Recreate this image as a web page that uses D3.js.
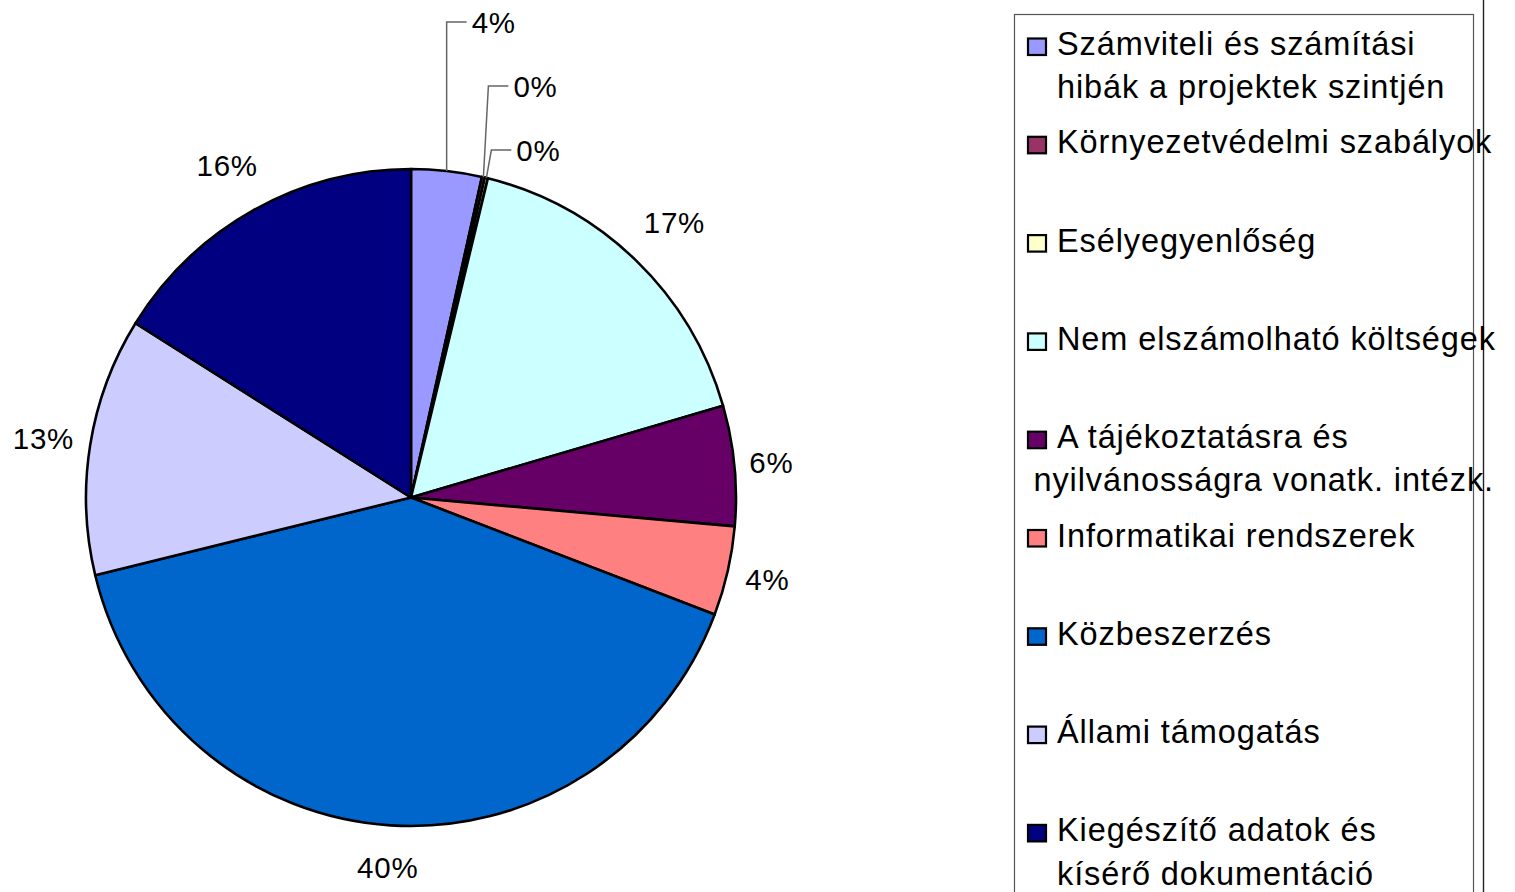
<!DOCTYPE html>
<meta charset="utf-8">
<style>
body { margin: 0; background: #fff; }
text { font-family: "Liberation Sans", Arial, sans-serif; fill: #000; }
</style>
<body>
<svg id="chart" width="1515" height="892"></svg>
</body>

<script src="https://cdn.jsdelivr.net/npm/d3@7"></script>
<script>
// categories (legend order = slice order, clockwise from 12 o'clock)
var categories = [
  "Számviteli és számítási\nhibák a projektek szintjén",
  "Környezetvédelmi szabályok",
  "Esélyegyenlőség",
  "Nem elszámolható költségek",
  "A tájékoztatásra és\nnyilvánosságra vonatk. intézk.",
  "Informatikai rendszerek",
  "Közbeszerzés",
  "Állami támogatás",
  "Kiegészítő adatok és\nkísérő dokumentáció"
];
var values = [3.5, 0.15, 0.15, 16.7, 5.9, 4.4, 40.4, 12.7, 16.1];
var colors = ["#9999FF", "#993366", "#FFFFCC", "#CCFFFF", "#660066",
              "#FF8080", "#0066CC", "#CCCCFF", "#000080"];

var svg = d3.select("#chart");

// pie geometry
var cx = 411, cy = 497.5, rx = 325, ry = 328.5;
var total = d3.sum(values);

var pie = d3.pie().sort(null).value(function(d) { return d; });
var arcs = pie(values);

var arc = d3.arc().innerRadius(0).outerRadius(ry);

var pieG = svg.append("g")
    .attr("transform", "translate(" + cx + "," + cy + ") scale(" + (rx / ry) + ",1)");

pieG.selectAll("path")
    .data(arcs)
  .enter().append("path")
    .attr("d", arc)
    .attr("fill", function(d, i) { return colors[i]; })
    .attr("stroke", "#000")
    .attr("stroke-width", 2.6)
    .attr("stroke-linejoin", "round");

// percentage labels
var labelSize = 29.5;
var labelG = svg.append("g")
    .style("font-size", labelSize + "px")
    .style("letter-spacing", "0.8px");

function pct(v) { return Math.round(v / total * 100) + "%"; }

var smallIdx = 0;
arcs.forEach(function(d, i) {
  var th = (d.startAngle + d.endAngle) / 2;
  var share = d.value / total;
  if (share >= 0.04) {
    // outside label, pushed out by its own box size
    var t = labelG.append("text")
        .attr("text-anchor", "middle")
        .attr("dy", "0.36em")
        .text(pct(d.value));
    var w = t.node().getComputedTextLength();
    var dist = 337 + (w / 2) * Math.abs(Math.sin(th)) + (labelSize + 2) * Math.abs(Math.cos(th));
    t.attr("x", cx + dist * Math.sin(th))
     .attr("y", cy - dist * Math.cos(th));
  } else {
    // small slices: stacked above the pie with leader lines
    var mx = cx + rx * Math.sin(th), my = cy - ry * Math.cos(th);
    var ly = 22 + smallIdx * 64;
    var ex = mx + (smallIdx > 0 ? 5 : 0);
    labelG.append("polyline")
        .attr("points", [[mx, my], [ex, ly], [ex + 20, ly]].map(function(p) { return p.join(","); }).join(" "))
        .attr("fill", "none")
        .attr("stroke", "#666")
        .attr("stroke-width", 1.5);
    labelG.append("text")
        .attr("x", ex + 25)
        .attr("y", ly)
        .attr("dy", "0.36em")
        .text(pct(d.value));
    smallIdx++;
  }
});

// legend frame and the vertical rule right of it
svg.append("rect")
    .attr("x", 1014.5).attr("y", 14.5)
    .attr("width", 459).attr("height", 900)
    .attr("fill", "none")
    .attr("stroke", "#555")
    .attr("stroke-width", 1.2);

svg.append("line")
    .attr("x1", 1483.5).attr("x2", 1483.5)
    .attr("y1", 0).attr("y2", 892)
    .attr("stroke", "#222")
    .attr("stroke-width", 1.4);

// legend entries
var legendSize = 32.5, rowGap = 98.3, lineGap = 43.3;
var legend = svg.append("g")
    .style("font-size", legendSize + "px")
    .style("letter-spacing", "0.9px");

var rows = legend.selectAll("g.row")
    .data(categories)
  .enter().append("g")
    .attr("class", "row")
    .attr("transform", function(d, i) { return "translate(0," + (55 + i * rowGap) + ")"; });

rows.append("rect")
    .attr("x", 1028).attr("y", -16.5)
    .attr("width", 18).attr("height", 16.5)
    .attr("fill", function(d, i) { return colors[i]; })
    .attr("stroke", "#000")
    .attr("stroke-width", 2.2);

rows.each(function(d) {
  var row = d3.select(this);
  d.split("\n").forEach(function(line, j) {
    var t = row.append("text")
        .attr("x", 1057)
        .attr("y", j * lineGap)
        .text(line);
    var w = t.node().getComputedTextLength();
    // lines that are too long are pulled left, as in the original
    if (j > 0 && 1057 + w > 1494) t.attr("x", 1494 - w);
  });
});
</script>
